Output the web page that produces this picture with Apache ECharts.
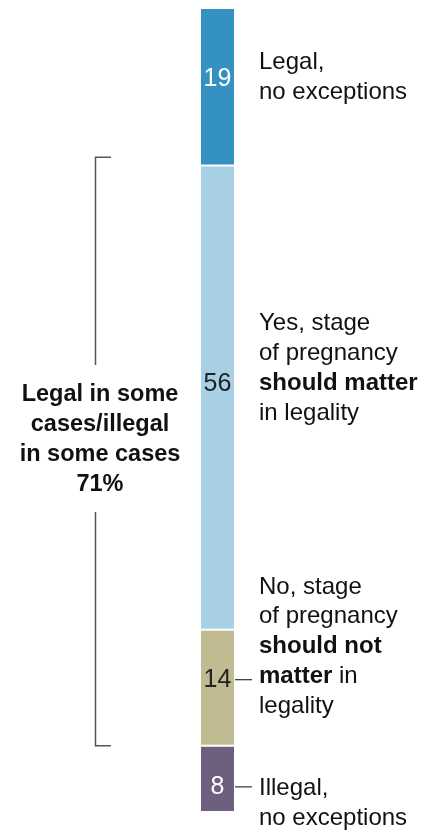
<!DOCTYPE html>
<html>
<head>
<meta charset="utf-8">
<script src="https://cdn.jsdelivr.net/npm/echarts@6/dist/echarts.min.js"></script>
<style>html,body{margin:0;padding:0;background:#fff}#c{width:429px;height:830px}</style>
</head>
<body>
<div id="c"></div>
<script>
// ---- data ----
const categories = ['Abortion'];
const seriesNames = ['Legal, no exceptions', 'Stage should matter', 'Stage should not matter', 'Illegal, no exceptions'];
const legalNoExceptions = [19];
const stageShouldMatter = [56];
const stageShouldNotMatter = [14];
const illegalNoExceptions = [8];
const combinedShare = 71; // "Legal in some cases/illegal in some cases"
const axisMax = 97;

const colors = ['#3591c1', '#a7d0e6', '#c0bb91', '#6d5f7e'];
const labelColors = ['#ffffff', '#222222', '#222222', '#ffffff'];
const labelOffsets = [-8, -13, -8, 8];
const FONT = '"Liberation Sans", Arial, sans-serif';

const chart = echarts.init(document.getElementById('c'), null, {renderer: 'canvas'});
const values = [legalNoExceptions, stageShouldMatter, stageShouldNotMatter, illegalNoExceptions];

chart.setOption({
  animation: false,
  grid: {left: 200, width: 35, top: 8, height: 804},
  xAxis: {type: 'category', data: categories, show: false},
  yAxis: {type: 'value', min: 0, max: axisMax, inverse: true, show: false},
  series: values.map((v, i) => ({
    name: seriesNames[i],
    type: 'bar',
    stack: 'total',
    data: v,
    barWidth: '100%',
    itemStyle: {color: colors[i], borderColor: '#ffffff', borderWidth: 1},
    label: {
      show: true, position: 'inside', offset: [0, labelOffsets[i]],
      color: labelColors[i], fontSize: 25, fontFamily: FONT
    }
  }))
});

function px(val) { return chart.convertToPixel({gridIndex: 0}, [0, val]); }

// segment boundaries computed through the scale
const b0 = 0;
const b1 = b0 + legalNoExceptions[0];
const b2 = b1 + stageShouldMatter[0];
const b3 = b2 + stageShouldNotMatter[0];
const b4 = b3 + illegalNoExceptions[0];
const barRight = px(0)[0] + 17.5;
const textX = barRight + 24;

const blocks = [
  {first: 62.5, lines: ['Legal,', 'no exceptions']},
  {first: 323.5, lines: ['Yes, stage', 'of pregnancy', '{b|should matter}', 'in legality']},
  {first: 587, lines: ['No, stage', 'of pregnancy', '{b|should not}', '{b|matter} in', 'legality']},
  {first: 788.5, lines: ['Illegal,', 'no exceptions']}
];

const graphics = [];
blocks.forEach(bk => {
  bk.lines.forEach((t, j) => {
    graphics.push({
      type: 'text', x: textX, y: bk.first + j * 29.8,
      style: {text: t, fontSize: 24, fontFamily: FONT, fill: '#111', align: 'left', verticalAlign: 'middle',
        rich: {b: {fontSize: 24, fontFamily: FONT, fontWeight: 'bold', fill: '#111'}}}
    });
  });
});

// leader lines for small segments
const y14 = (px(b2)[1] + px(b3)[1]) / 2 + labelOffsets[2];
const y8 = (px(b3)[1] + px(b4)[1]) / 2 + labelOffsets[3];
[y14, y8].forEach(y => {
  graphics.push({type: 'line', shape: {x1: barRight - 2, y1: y, x2: barRight + 17, y2: y},
    style: {stroke: '#444', lineWidth: 1.3}});
});

// bracket spanning the combined share
const bracketBottom = px(b3)[1];
const bracketTop = px(b3 - combinedShare)[1];
const bx = 95.5;
graphics.push({type: 'polyline', shape: {points: [[111, bracketTop], [bx, bracketTop], [bx, 365]]},
  style: {stroke: '#555', lineWidth: 1.5, fill: null}});
graphics.push({type: 'polyline', shape: {points: [[bx, 512], [bx, bracketBottom], [111, bracketBottom]]},
  style: {stroke: '#555', lineWidth: 1.5, fill: null}});

const leftLines = ['Legal in some', 'cases/illegal', 'in some cases', combinedShare + '%'];
leftLines.forEach((t, j) => {
  graphics.push({type: 'text', x: 100, y: 395 + j * 29.7,
    style: {text: t, fontSize: 23.5, fontWeight: 'bold', fontFamily: FONT, fill: '#111', align: 'center', verticalAlign: 'middle'}});
});

chart.setOption({graphic: graphics});
</script>
</body>
</html>
